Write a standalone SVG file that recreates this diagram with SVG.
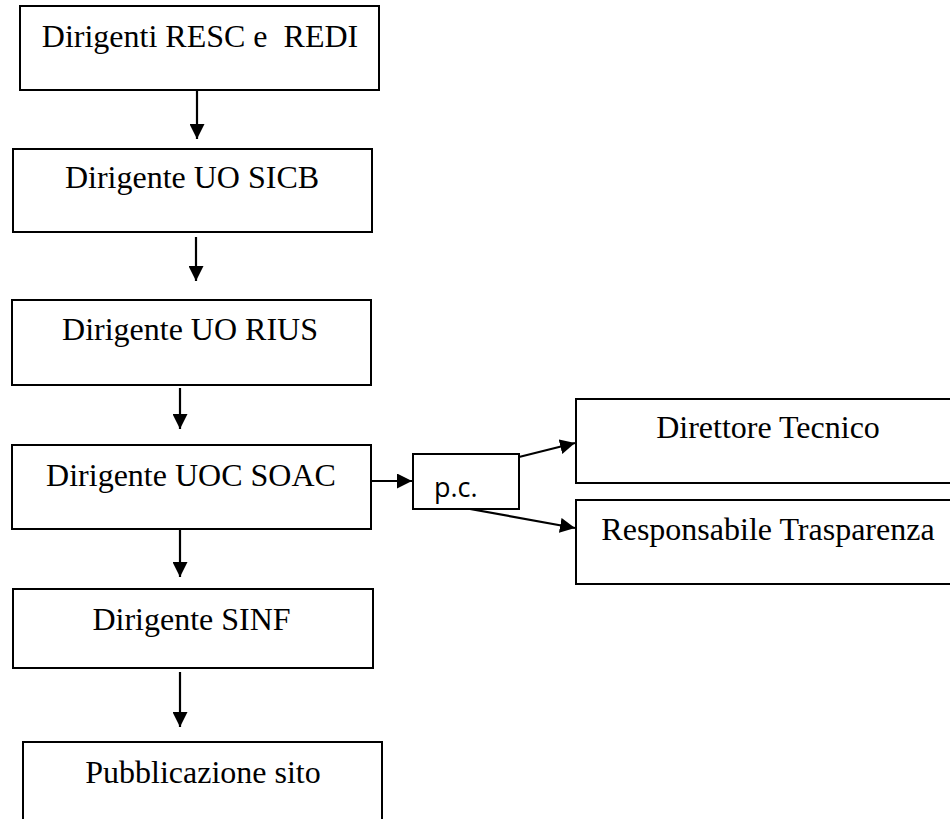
<svg xmlns="http://www.w3.org/2000/svg" width="950" height="819" viewBox="0 0 950 819">
<defs>
<marker id="arr" markerUnits="userSpaceOnUse" markerWidth="15" markerHeight="15" refX="15" refY="7.5" orient="auto">
<path d="M0,0 L15,7.5 L0,15 z" fill="#000"/>
</marker>
<style>
.box{fill:#fff;stroke:#000;stroke-width:2}
.t{font-family:"Liberation Serif","Times New Roman",serif;font-size:32px;fill:#000;text-anchor:middle}
.s{font-family:"Open Sans","Liberation Sans",sans-serif;font-size:27px;fill:#000}
.c{stroke:#000;stroke-width:2.2;fill:none;marker-end:url(#arr)}
</style>
</defs>
<rect width="950" height="819" fill="#fff"/>
<g id="connectors">
<line class="c" x1="197" y1="91" x2="197" y2="139"/>
<line class="c" x1="196" y1="237" x2="196" y2="281"/>
<line class="c" x1="180" y1="388" x2="180" y2="429"/>
<line class="c" x1="180" y1="530" x2="180" y2="577"/>
<line class="c" x1="180" y1="672" x2="180" y2="727"/>
<line class="c" x1="372" y1="481" x2="412" y2="481"/>
<line class="c" x1="519" y1="457" x2="575" y2="443"/>
<line class="c" x1="470" y1="509" x2="575" y2="528"/>
</g>
<g id="n1"><rect class="box" x="20" y="6" width="359" height="84"/><text class="t" x="200" y="47" xml:space="preserve">Dirigenti RESC e  REDI</text></g>
<g id="n2"><rect class="box" x="13" y="149" width="359" height="83"/><text class="t" x="192" y="188">Dirigente UO SICB</text></g>
<g id="n3"><rect class="box" x="12" y="300" width="359" height="85"/><text class="t" x="190" y="340">Dirigente UO RIUS</text></g>
<g id="n4"><rect class="box" x="12" y="445" width="359" height="84"/><text class="t" x="191" y="486">Dirigente UOC SOAC</text></g>
<g id="n5"><rect class="box" x="13" y="589" width="360" height="79"/><text class="t" x="191.5" y="630">Dirigente SINF</text></g>
<g id="n6"><rect class="box" x="23" y="742" width="359" height="90"/><text class="t" x="203" y="783">Pubblicazione sito</text></g>
<g id="pc"><rect class="box" x="413" y="454" width="106" height="55"/><text class="s" x="434" y="497">p.c.</text></g>
<g id="n7"><rect class="box" x="576" y="399" width="384" height="84"/><text class="t" x="768" y="438">Direttore Tecnico</text></g>
<g id="n8"><rect class="box" x="576" y="500" width="384" height="84"/><text class="t" x="768" y="540">Responsabile Trasparenza</text></g>
</svg>
